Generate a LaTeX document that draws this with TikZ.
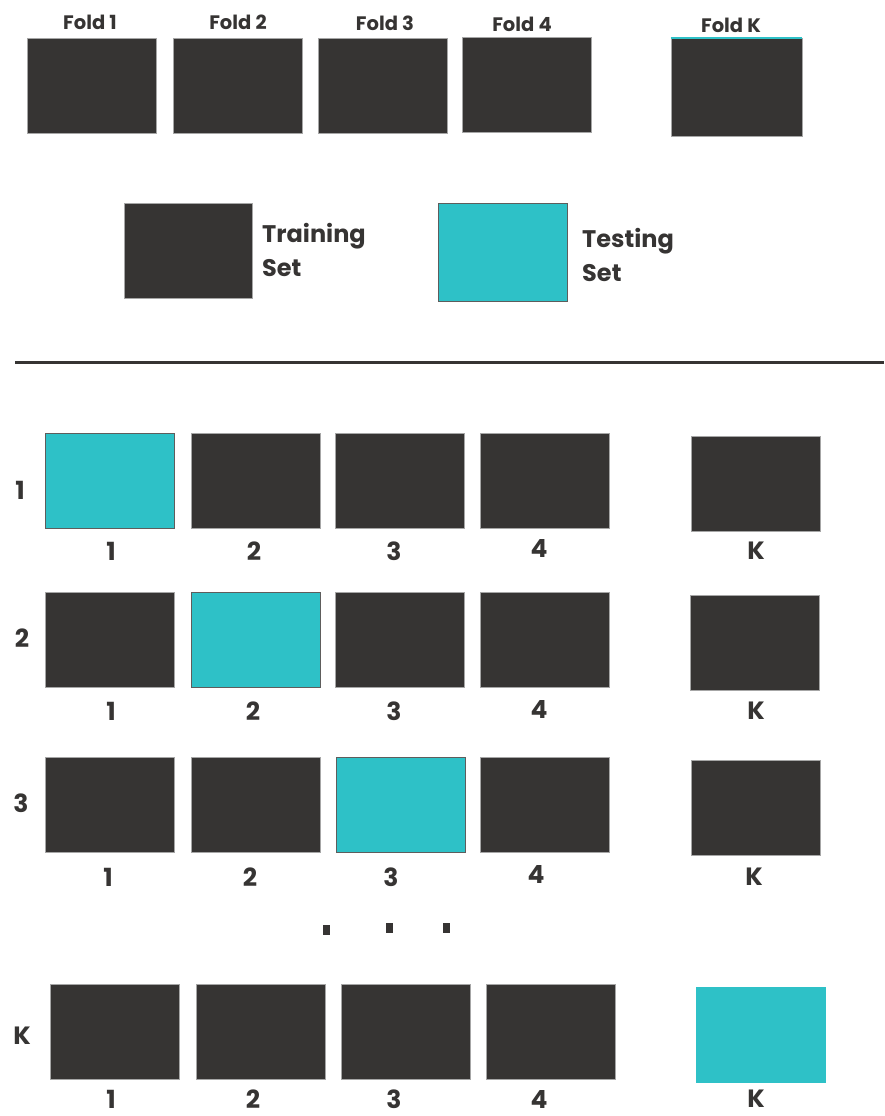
\documentclass[tikz,border=0pt]{standalone}
\usepackage{fontspec}
\setmainfont{Poppins}
\usetikzlibrary{positioning}
\definecolor{dk}{RGB}{54,52,51}
\definecolor{tq}{RGB}{46,193,199}

\begin{document}
\begin{tikzpicture}[x=1pt,y=-1pt,
    fold/.style={rectangle,fill=dk,draw=gray!70,line width=0.6pt,minimum width=129pt,minimum height=95pt,inner sep=0pt},
    test/.style={fold,fill=tq,draw=dk!80},
    ttl/.style={font=\fontsize{19.5}{22}\selectfont\bfseries,text=dk,inner sep=0pt},
    num/.style={font=\fontsize{25}{30}\selectfont\bfseries,text=dk,inner sep=0pt},
    leg/.style={font=\fontsize{24}{34}\selectfont\bfseries,text=dk,align=left,inner sep=0pt,anchor=west},
    dot/.style={rectangle,fill=dk,minimum width=7pt,minimum height=10pt,inner sep=0pt},
]
\useasboundingbox (0,0) rectangle (884,1116);

% Folds
\node[fold] (f1) at (91.5,85.5) {};
\node[fold] (f2) at (237.5,85.5) {};
\node[fold] (f3) at (382.5,85.5) {};
\node[fold] (f4) at (526.5,84.5) {};
\node[fold,minimum width=131pt,minimum height=98pt] (fk) at (736.5,87) {};
\draw[tq,line width=2pt] (fk.north west) -- (fk.north east);
\node[ttl] (t1) at (90,22) {Fold 1};
\node[ttl] (t2) at (238,22) {Fold 2};
\node[ttl] (t3) at (385,23) {Fold 3};
\node[ttl] (t4) at (522,24) {Fold 4};
\node[ttl] (tk) at (731,25) {Fold K};

% Legend
\node[fold,minimum width=128pt] (train) at (188,250.5) {};
\node[leg] (trainl) at (262,250) {Training\\Set};
\node[test,minimum height=98pt] (testb) at (502.5,252) {};
\node[leg] (testl) at (582,255) {Testing\\Set};

% Divider
\coordinate (dl) at (15,362);
\coordinate (dr) at (884,362);
\draw[dk,line width=3pt] (dl) -- (dr);

% Iteration 1
\node[num] (r1) at (20,490) {1};
\node[test] (a1) at (109.5,480.5) {};
\node[fold] (a2) at (256,480.5) {};
\node[fold] (a3) at (399.5,480.5) {};
\node[fold] (a4) at (545,480.5) {};
\node[fold] (ak) at (755.5,483.5) {};
\node[num] (na1) at (111,551) {1};
\node[num] (na2) at (254,551) {2};
\node[num] (na3) at (394,551) {3};
\node[num] (na4) at (539,548) {4};
\node[num] (nak) at (756,551) {K};

% Iteration 2
\node[num] (r2) at (22,638) {2};
\node[fold] (b1) at (109.5,640) {};
\node[test] (b2) at (256,640) {};
\node[fold] (b3) at (399.5,640) {};
\node[fold] (b4) at (545,640) {};
\node[fold] (bk) at (755,643) {};
\node[num] (nb1) at (111,711) {1};
\node[num] (nb2) at (253,711) {2};
\node[num] (nb3) at (394,711) {3};
\node[num] (nb4) at (539,709) {4};
\node[num] (nbk) at (756,711) {K};

% Iteration 3
\node[num] (r3) at (21,803) {3};
\node[fold] (c1) at (110,804.5) {};
\node[fold] (c2) at (256,804.5) {};
\node[test] (c3) at (401,804.5) {};
\node[fold] (c4) at (545,804.5) {};
\node[fold] (ck) at (756,807.5) {};
\node[num] (nc1) at (108,877) {1};
\node[num] (nc2) at (250,877) {2};
\node[num] (nc3) at (391,877) {3};
\node[num] (nc4) at (536,874) {4};
\node[num] (nck) at (754,877) {K};

% Dots
\node[dot] (d1) at (326,930) {};
\node[dot] (d2) at (389,928) {};
\node[dot] (d3) at (446,928) {};

% Iteration K
\node[num] (rk) at (22,1036) {K};
\node[fold] (e1) at (115,1031.5) {};
\node[fold] (e2) at (261,1031.5) {};
\node[fold] (e3) at (406,1031.5) {};
\node[fold] (e4) at (551,1031.5) {};
\node[test,draw=none,minimum width=130pt,minimum height=96pt] (ek) at (761,1035) {};
\node[num] (ne1) at (111,1099) {1};
\node[num] (ne2) at (253,1099) {2};
\node[num] (ne3) at (394,1099) {3};
\node[num] (ne4) at (539,1099) {4};
\node[num] (nek) at (756,1099) {K};
\end{tikzpicture}
\end{document}
